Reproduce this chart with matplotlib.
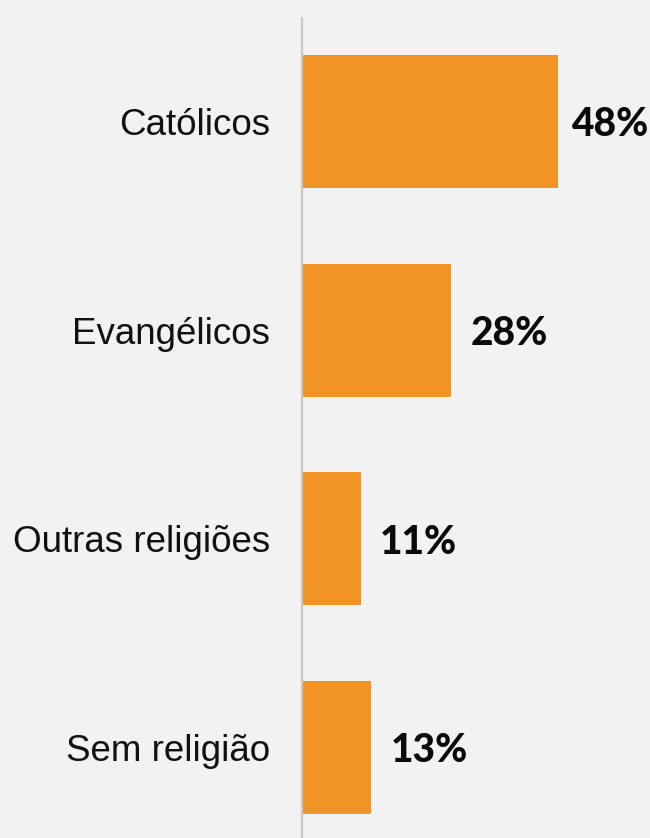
import matplotlib
matplotlib.use("Agg")
import matplotlib.pyplot as plt
from matplotlib.pyplot import rcParams

rcParams.update({
    "font.family": "sans-serif",
    "font.sans-serif": ["Liberation Sans", "Arial", "DejaVu Sans"],
    "axes.unicode_minus": False,
})

categories = ["Católicos", "Evangélicos", "Outras religiões", "Sem religião"]
values = [48, 28, 11, 13]
value_labels = ["48%", "28%", "11%", "13%"]

bg = "#f2f2f2"
bar_color = "#f29325"

fig = plt.figure(figsize=(6.5, 8.38), dpi=100, facecolor=bg)
ax = fig.add_axes([302 / 650, 0, 348 / 650, 1 - 18 / 838])
ax.set_facecolor(bg)

ypos = list(range(len(categories)))
ax.barh(ypos, values, height=0.637, color=bar_color, zorder=2)

ax.set_xlim(0, 65.3)
ax.set_ylim(3.434, -0.496)

for side in ["top", "right", "bottom"]:
    ax.spines[side].set_visible(False)
ax.spines["left"].set_color("#c8c8c8")
ax.spines["left"].set_linewidth(1.6)
ax.spines["left"].set_zorder(3)

ax.set_xticks([])
ax.set_yticks(ypos)
ax.set_yticklabels(categories, fontsize=26.5, color="#111111",
                   family=["Liberation Sans", "DejaVu Sans"])
ax.tick_params(axis="y", length=0, pad=23)

texts = []
for y, v, lab in zip(ypos, values, value_labels):
    t = ax.annotate(lab, xy=(v, y), xytext=(14, 0), textcoords="offset points",
                    ha="left", va="center_baseline", fontsize=28, fontweight="black",
                    family=["Lato", "DejaVu Sans"], color="#0a0a0a")
    texts.append(t)

# keep labels inside the figure
fig.canvas.draw()
r = fig.canvas.get_renderer()
for t in texts:
    bb = t.get_window_extent(r)
    limit = fig.bbox.width - 2
    if bb.x1 > limit:
        dx = (bb.x1 - limit) * 72 / fig.dpi
        x0, y0 = t.xyann
        t.xyann = (x0 - dx, y0)

fig.savefig("out.png", dpi=100, facecolor=bg)
